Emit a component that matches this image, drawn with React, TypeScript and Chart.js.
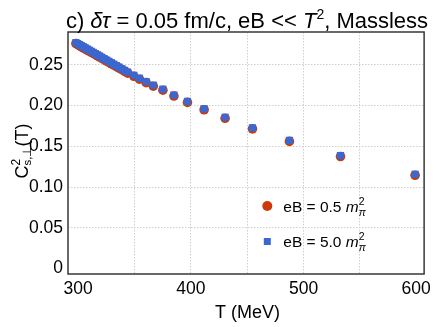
import React, { useEffect, useRef } from "react";
import { Chart, registerables } from "chart.js";

Chart.register(...registerables);

// ---- data ----
const TEMPERATURES = [
  298.0, 299.6, 301.2, 302.9, 304.6, 306.3, 308.0, 309.8, 311.6, 313.4, 315.3, 317.2, 319.1, 321.1,
  323.1, 325.2, 327.3, 329.5, 331.7, 334.0, 336.3, 338.7, 341.3, 344.0,
  349.4, 354.4, 360.3, 366.7, 375.2, 385.0, 397.0, 411.8, 430.4, 454.7, 487.5, 532.8, 599.0,
];
const CS2_EB_05 = [
  0.2763, 0.275, 0.2738, 0.2724, 0.2711, 0.2698, 0.2684, 0.267, 0.2656, 0.2642, 0.2627, 0.2612, 0.2597, 0.2581,
  0.2565, 0.2548, 0.2532, 0.2515, 0.2497, 0.2479, 0.2461, 0.2442, 0.2421, 0.24,
  0.2361, 0.2325, 0.2283, 0.2239, 0.219, 0.2118, 0.204, 0.195, 0.1845, 0.1715, 0.1561, 0.1375, 0.1145,
];
const CS2_EB_50 = [
  0.2775, 0.2762, 0.275, 0.2736, 0.2723, 0.271, 0.2696, 0.2682, 0.2668, 0.2654, 0.2639, 0.2624, 0.2609, 0.2593,
  0.2577, 0.256, 0.2544, 0.2527, 0.2509, 0.2491, 0.2473, 0.2454, 0.2433, 0.2412,
  0.2373, 0.2337, 0.2295, 0.2251, 0.2202, 0.213, 0.2052, 0.1962, 0.1857, 0.1727, 0.1573, 0.1387, 0.1157,
];
const X_TICKS = [300, 350, 400, 450, 500, 550, 600];
const X_TICK_LABELS = ["300", "", "400", "", "500", "", "600"];
const Y_TICKS = [0, 0.05, 0.1, 0.15, 0.2, 0.25];
const Y_TICK_LABELS = ["0", "0.05", "0.10", "0.15", "0.20", "0.25"];
const SERIES_NAMES = ["eB = 0.5 ", "eB = 5.0 "];

const FONT = '"Liberation Sans", Arial, Helvetica, sans-serif';
const RED = "#cc3a0a";
const BLUE = "#3a67d0";
const GRID = "#cfcfcf";

type Seg = { t: string; size: number; italic?: boolean; dy?: number; noAdvance?: boolean };

function segFont(s: Seg) {
  return `${s.italic ? "italic " : ""}${s.size}px ${FONT}`;
}

function richWidth(ctx: CanvasRenderingContext2D, segs: Seg[]) {
  let w = 0;
  for (const s of segs) {
    ctx.font = segFont(s);
    if (!s.noAdvance) w += ctx.measureText(s.t).width;
  }
  return w;
}

function drawRich(ctx: CanvasRenderingContext2D, segs: Seg[], x: number, y: number, align: "left" | "center") {
  const total = richWidth(ctx, segs);
  let cx = align === "center" ? x - total / 2 : x;
  ctx.textAlign = "left";
  ctx.textBaseline = "alphabetic";
  for (const s of segs) {
    ctx.font = segFont(s);
    ctx.fillText(s.t, cx, y + (s.dy || 0));
    if (!s.noAdvance) cx += ctx.measureText(s.t).width;
  }
}

const decorPlugin = {
  id: "decor",
  afterDraw(chart: any) {
    const ctx: CanvasRenderingContext2D = chart.ctx;
    const a = chart.chartArea;
    ctx.save();
    // frame
    ctx.strokeStyle = "#2a2a2a";
    ctx.lineWidth = 1.4;
    ctx.strokeRect(a.left, a.top, a.right - a.left, a.bottom - a.top);
    ctx.fillStyle = "#000";

    // title
    const title: Seg[] = [
      { t: "c) ", size: 22 },
      { t: "δτ", size: 22, italic: true },
      { t: " = 0.05 fm/c, eB << ", size: 22 },
      { t: "T", size: 22, italic: true },
      { t: "2", size: 14, dy: -9 },
      { t: ", Massless", size: 22 },
    ];
    drawRich(ctx, title, 247, 27.5, "center");

    // x-axis title
    drawRich(ctx, [{ t: "T (MeV)", size: 18 }], 247.5, 318, "center");

    // y-axis title (rotated)
    ctx.save();
    ctx.translate(28, 151);
    ctx.rotate(-Math.PI / 2);
    const ylab: Seg[] = [
      { t: "C", size: 18 },
      { t: "2", size: 12, dy: -8, noAdvance: true },
      { t: "s,⊥", size: 11.5, dy: 3 },
      { t: "(T)", size: 18 },
    ];
    drawRich(ctx, ylab, 0, 0, "center");
    ctx.restore();

    // legend
    const rows = [
      { y: 206, color: RED, shape: "circle", name: SERIES_NAMES[0] },
      { y: 241.5, color: BLUE, shape: "square", name: SERIES_NAMES[1] },
    ];
    for (const r of rows) {
      ctx.fillStyle = r.color;
      if (r.shape === "circle") {
        ctx.beginPath();
        ctx.arc(267.3, r.y, 5, 0, Math.PI * 2);
        ctx.fill();
      } else {
        ctx.fillRect(267.3 - 3.5, r.y - 3.5, 7, 7);
      }
      ctx.fillStyle = "#000";
      const segs: Seg[] = [
        { t: r.name, size: 15.5 },
        { t: "m", size: 15.5, italic: true },
        { t: "2", size: 10.5, dy: -7, noAdvance: true },
        { t: "π", size: 10.5, italic: true, dy: 4 },
      ];
      drawRich(ctx, segs, 283.3, r.y + 5.5, "left");
    }
    ctx.restore();
  },
};

export default function App() {
  const canvasRef = useRef<HTMLCanvasElement | null>(null);

  useEffect(() => {
    document.body.style.margin = "0";
    const canvas = canvasRef.current;
    if (!canvas) return;
    const toPoints = (ys: number[]) => TEMPERATURES.map((t, i) => ({ x: t, y: ys[i] }));
    const chart = new Chart(canvas, {
      type: "scatter",
      data: {
        datasets: [
          {
            label: "eB = 5.0 m_pi^2",
            data: toPoints(CS2_EB_50),
            pointStyle: "rect",
            pointRadius: 5.1,
            backgroundColor: BLUE,
            borderWidth: 0,
            borderColor: BLUE,
          },
          {
            label: "eB = 0.5 m_pi^2",
            data: toPoints(CS2_EB_05),
            pointStyle: "circle",
            pointRadius: 4.8,
            backgroundColor: RED,
            borderWidth: 0,
            borderColor: RED,
          },
        ],
      },
      options: {
        responsive: false,
        animation: false,
        layout: { padding: { top: 32, right: 8, left: 0, bottom: 0 } },
        plugins: { legend: { display: false }, tooltip: { enabled: false }, title: { display: false } },
        scales: {
          x: {
            type: "linear",
            min: 291,
            max: 607,
            afterBuildTicks: (s: any) => {
              s.ticks = X_TICKS.map((v) => ({ value: v }));
            },
            afterFit: (s: any) => {
              s.height = 53;
            },
            ticks: {
              autoSkip: false,
              maxRotation: 0,
              padding: 5,
              color: "#000",
              font: { family: FONT, size: 17.5 },
              callback: (_v: any, i: number) => X_TICK_LABELS[i],
            },
            grid: {
              drawTicks: false,
              color: (c: any) =>
                c.tick && (c.tick.value === 300 || c.tick.value === 600) ? "rgba(0,0,0,0)" : GRID,
              lineWidth: 1,
            },
            border: { display: false, dash: [1.5, 1.5] },
          },
          y: {
            type: "linear",
            min: -0.0068,
            max: 0.2905,
            afterBuildTicks: (s: any) => {
              s.ticks = Y_TICKS.map((v) => ({ value: v }));
            },
            afterFit: (s: any) => {
              s.width = 68;
            },
            ticks: {
              autoSkip: false,
              padding: 5,
              color: "#000",
              font: { family: FONT, size: 17.5 },
              callback: (_v: any, i: number) => Y_TICK_LABELS[i],
            },
            grid: {
              drawTicks: false,
              color: (c: any) => (c.tick && c.tick.value === 0 ? "rgba(0,0,0,0)" : GRID),
              lineWidth: 1,
            },
            border: { display: false, dash: [1.5, 1.5] },
          },
        },
      },
      plugins: [decorPlugin],
    } as any);
    return () => chart.destroy();
  }, []);

  return (
    <div style={{ width: 436, height: 327 }}>
      <canvas ref={canvasRef} width={436} height={327} style={{ display: "block" }} />
    </div>
  );
}
